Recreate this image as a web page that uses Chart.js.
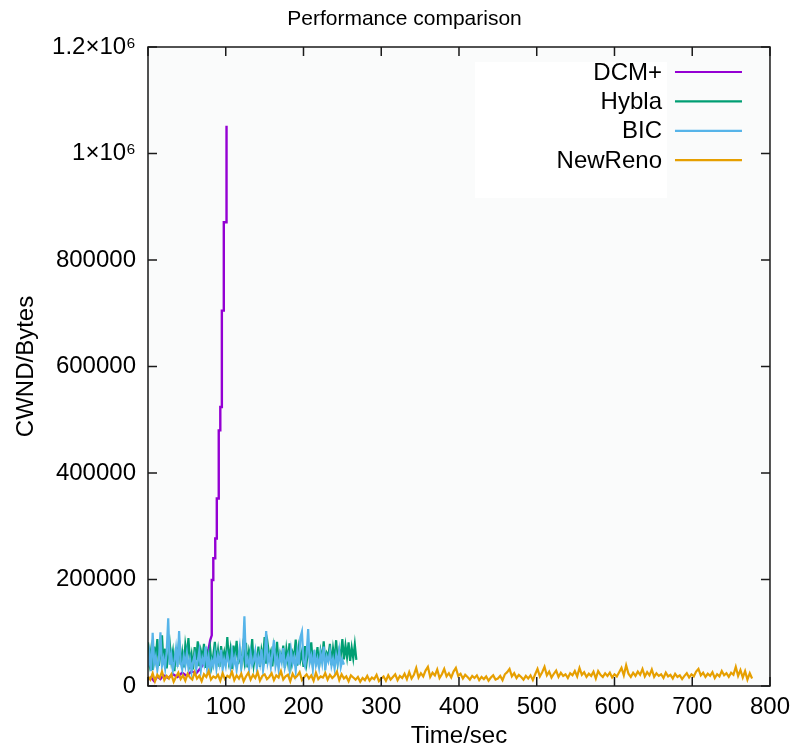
<!DOCTYPE html>
<html>
<head>
<meta charset="utf-8">
<title>Performance comparison</title>
<script src="https://cdn.jsdelivr.net/npm/chart.js@4.4.1/dist/chart.umd.min.js"></script>
<style>
  html, body { margin: 0; padding: 0; background: #fff; }
  canvas { display: block; }
</style>
</head>
<body>
<canvas id="chart" width="799" height="747"></canvas>
<script>
const chartTitle = 'Performance comparison';
const seriesNames = ['DCM+', 'Hybla', 'BIC', 'NewReno'];
const seriesColors = ['#9400d3', '#009e73', '#56b4e9', '#e69f00'];

const xTicks = [0, 100, 200, 300, 400, 500, 600, 700, 800];
const xTickLabels = ['', '100', '200', '300', '400', '500', '600', '700', '800'];
const yTicks = [0, 200000, 400000, 600000, 800000, 1000000, 1200000];
const yTickLabels = ['0', '200000', '400000', '600000', '800000', '1×10⁶', '1.2×10⁶'];

// DCM+ : slow start, then the staircase up to ~1.05e6
const dcmTime = [0, 4, 8, 12, 16, 20, 26, 32, 38, 44, 50, 56, 62, 68, 74, 78,
  80, 82, 82, 84, 84, 86.5, 86.5, 88.5, 88.5, 91, 91, 93, 93, 95, 95, 97.5, 97.5, 101, 101];
const dcmCwnd = [12000, 16000, 9000, 18000, 13000, 20000, 15000, 22000, 17000, 25000, 19000, 28000, 24000, 34000, 48000, 70000,
  86000, 95000, 199000, 199000, 240000, 240000, 277000, 277000, 352000, 352000, 480000, 480000,
  524000, 524000, 705000, 705000, 871000, 871000, 1052000];

// Hybla, sampled every 2 s from 0 s
const hyblaStep = 2;
const hyblaCwnd = [
  82000, 45000, 68000, 30000, 74000, 52000, 88000, 38000, 61000, 95000,
  42000, 70000, 33000, 58000, 80000, 47000, 65000, 28000, 72000, 50000,
  86000, 40000, 63000, 35000, 77000, 55000, 90000, 44000, 60000, 31000,
  73000, 48000, 84000, 37000, 66000, 52000, 79000, 34000, 62000, 45000,
  70000, 39000, 58000, 83000, 46000, 67000, 36000, 75000, 51000, 64000,
  43000, 92000, 49000, 69000, 32000, 76000, 54000, 85000, 41000, 63000,
  38000, 71000, 47000, 81000, 35000, 66000, 53000, 88000, 40000, 60000,
  45000, 74000, 36000, 67000, 50000, 92000, 42000, 78000, 55000, 65000,
  37000, 72000, 48000, 83000, 39000, 61000, 52000, 76000, 34000, 69000,
  46000, 80000, 41000, 63000, 55000, 87000, 38000, 71000, 49000, 64000,
  36000, 75000, 44000, 68000, 53000, 82000, 40000, 59000, 47000, 73000,
  35000, 66000, 51000, 84000, 42000, 62000, 56000, 79000, 39000, 70000,
  48000, 86000, 45000, 67000, 58000, 88000, 50000, 76000, 54000, 82000,
  47000, 72000, 52000, 78000, 49000
];

// BIC, sampled every 2 s from 0 s
const bicStep = 2;
const bicCwnd = [
  35000, 60000, 28000, 100000, 42000, 55000, 30000, 48000, 101000, 38000,
  52000, 33000, 64000, 127000, 40000, 58000, 29000, 46000, 70000, 36000,
  103000, 44000, 31000, 56000, 39000, 62000, 34000, 50000, 27000, 45000,
  58000, 32000, 47000, 66000, 30000, 52000, 41000, 74000, 35000, 55000,
  29000, 48000, 38000, 61000, 33000, 57000, 42000, 68000, 31000, 50000,
  37000, 59000, 45000, 34000, 63000, 40000, 54000, 30000, 49000, 72000,
  36000, 58000, 131000, 43000, 52000, 32000, 61000, 39000, 47000, 65000,
  34000, 55000, 41000, 69000, 30000, 50000, 103000, 44000, 57000, 36000,
  62000, 86000, 38000, 53000, 31000, 60000, 45000, 71000, 35000, 48000,
  58000, 33000, 66000, 42000, 54000, 29000, 63000, 40000, 91000, 102000,
  47000, 37000, 60000, 107000, 44000, 56000, 32000, 68000, 39000, 52000,
  35000, 61000, 43000, 74000, 30000, 55000, 46000, 64000, 38000, 51000,
  33000, 58000, 42000, 66000, 36000, 49000, 40000
];

// NewReno, sampled every 3 s from 0 s
const renoStep = 3;
const renoCwnd = [
  18000, 12000, 24000, 9000, 21000, 15000, 27000, 11000, 19000, 14000,
  22000, 8000, 17000, 25000, 13000, 20000, 10000, 23000, 16000, 12000,
  26000, 14000, 19000, 9000, 22000, 17000, 28000, 12000, 18000, 15000,
  21000, 10000, 24000, 13000, 19000, 16000, 27000, 11000, 20000, 14000,
  23000, 9000, 18000, 25000, 12000, 21000, 15000, 26000, 10000, 19000,
  22000, 13000, 17000, 24000, 11000, 20000, 16000, 28000, 12000, 18000,
  21000, 9000, 23000, 15000, 19000, 26000, 11000, 17000, 22000, 14000,
  20000, 10000, 25000, 13000, 18000, 16000, 24000, 12000, 21000, 15000,
  19000, 27000, 11000, 22000, 14000, 18000, 9000, 20000, 16000, 12000,
  17000, 8000, 15000, 11000, 19000, 10000, 16000, 13000, 21000, 9000,
  14000, 18000, 10000, 20000, 12000, 17000, 22000, 11000, 19000, 15000,
  23000, 13000, 26000, 14000, 21000, 34000, 16000, 24000, 18000, 29000,
  36000, 17000, 25000, 20000, 31000, 15000, 22000, 32000, 18000, 24000,
  16000, 27000, 34000, 19000, 23000, 14000, 21000, 17000, 12000, 19000,
  15000, 20000, 11000, 17000, 13000, 18000, 10000, 16000, 20000, 12000,
  14000, 19000, 11000, 22000, 26000, 32000, 18000, 24000, 15000, 21000,
  17000, 12000, 19000, 14000, 20000, 11000, 22000, 32000, 18000, 26000,
  36000, 20000, 27000, 16000, 23000, 29000, 17000, 25000, 19000, 22000,
  15000, 24000, 20000, 28000, 18000, 34000, 21000, 26000, 17000, 23000,
  19000, 27000, 14000, 28000, 21000, 17000, 24000, 19000, 25000, 16000,
  22000, 18000, 26000, 34000, 20000, 39000, 23000, 17000, 25000, 19000,
  27000, 21000, 32000, 18000, 26000, 20000, 31000, 17000, 24000, 19000,
  22000, 15000, 25000, 18000, 21000, 14000, 23000, 17000, 20000, 13000,
  19000, 24000, 16000, 22000, 18000, 27000, 32000, 20000, 25000, 17000,
  23000, 19000, 26000, 15000, 22000, 18000, 28000, 20000, 24000, 17000,
  25000, 21000, 36000, 19000, 30000, 16000, 28000, 12000, 24000, 14000
];

const FONT = '"Liberation Sans", Arial, Helvetica, sans-serif';

function sampled(values, step) {
  return values.map((v, i) => ({ x: i * step, y: v }));
}

const dcmPoints = dcmTime.map((t, i) => ({ x: t, y: dcmCwnd[i] }));

const frame = {
  id: 'frame',
  beforeDatasetsDraw(chart) {
    const { ctx, chartArea: a } = chart;
    ctx.save();
    ctx.fillStyle = '#fafbfb';
    ctx.fillRect(a.left, a.top, a.width, a.height);

    // key box, top right inside the plot
    ctx.fillStyle = '#ffffff';
    ctx.fillRect(a.right - 295, a.top + 15, 192, 136);
    ctx.font = '24px ' + FONT;
    ctx.textAlign = 'right';
    ctx.textBaseline = 'middle';
    seriesNames.forEach((name, i) => {
      const yy = a.top + 25 + i * 29.4;
      ctx.fillStyle = '#000';
      ctx.fillText(name, a.right - 108, yy + 1);
      ctx.strokeStyle = seriesColors[i];
      ctx.lineWidth = 2.2;
      ctx.beginPath();
      ctx.moveTo(a.right - 95, yy);
      ctx.lineTo(a.right - 28, yy);
      ctx.stroke();
    });
    ctx.restore();
  },
  afterDatasetsDraw(chart) {
    const { ctx, chartArea: a, scales: { x, y } } = chart;
    ctx.save();
    ctx.strokeStyle = '#1a1a1a';
    ctx.lineWidth = 1.5;
    ctx.beginPath();
    x.ticks.forEach(t => {
      const px = x.getPixelForValue(t.value);
      ctx.moveTo(px, a.bottom); ctx.lineTo(px, a.bottom - 9);
      ctx.moveTo(px, a.top); ctx.lineTo(px, a.top + 9);
    });
    y.ticks.forEach(t => {
      const py = y.getPixelForValue(t.value);
      ctx.moveTo(a.left, py); ctx.lineTo(a.left + 9, py);
      ctx.moveTo(a.right, py); ctx.lineTo(a.right - 9, py);
    });
    ctx.stroke();
    ctx.strokeRect(a.left, a.top, a.width, a.height);

    // title, centred on the whole canvas
    ctx.fillStyle = '#000';
    ctx.font = '21px ' + FONT;
    ctx.textAlign = 'center';
    ctx.textBaseline = 'middle';
    ctx.fillText(chartTitle, chart.width / 2 + 5, 19);
    ctx.restore();
  }
};

function line(label, data, color, order, width) {
  return {
    label, data, order,
    borderColor: color,
    borderWidth: width,
    pointRadius: 0,
    tension: 0,
    fill: false
  };
}

new Chart(document.getElementById('chart'), {
  type: 'line',
  data: {
    datasets: [
      line(seriesNames[0], dcmPoints, seriesColors[0], 3, 2.4),
      line(seriesNames[1], sampled(hyblaCwnd, hyblaStep), seriesColors[1], 2, 2.2),
      line(seriesNames[2], sampled(bicCwnd, bicStep), seriesColors[2], 1, 2.2),
      line(seriesNames[3], sampled(renoCwnd, renoStep), seriesColors[3], 0, 2.2)
    ]
  },
  options: {
    responsive: false,
    animation: false,
    layout: { padding: { top: 47, right: 29 } },
    plugins: {
      legend: { display: false },
      tooltip: { enabled: false },
      title: { display: false }
    },
    scales: {
      x: {
        type: 'linear',
        min: 0,
        max: 800,
        afterBuildTicks: s => { s.ticks = xTicks.map(v => ({ value: v })); },
        afterFit: s => { s.height = 61; },
        grid: { display: false, drawTicks: false },
        border: { display: false },
        ticks: {
          padding: 9,
          maxRotation: 0,
          autoSkip: false,
          color: '#000',
          font: { family: FONT, size: 24, lineHeight: 1 },
          callback: (v, i) => xTickLabels[i]
        },
        title: {
          display: true,
          text: 'Time/sec',
          color: '#000',
          font: { family: FONT, size: 24, lineHeight: 1 },
          padding: { top: 0, bottom: -1 }
        }
      },
      y: {
        min: 0,
        max: 1200000,
        afterBuildTicks: s => { s.ticks = yTicks.map(v => ({ value: v })); },
        afterFit: s => { s.width = 148; },
        grid: { display: false, drawTicks: false },
        border: { display: false },
        ticks: {
          padding: 12,
          autoSkip: false,
          color: '#000',
          font: { family: FONT, size: 24, lineHeight: 1 },
          callback: (v, i) => yTickLabels[i]
        },
        title: {
          display: true,
          text: 'CWND/Bytes',
          color: '#000',
          font: { family: FONT, size: 24, lineHeight: 1 },
          padding: { top: 14, bottom: 0 }
        }
      }
    }
  },
  plugins: [frame]
});
</script>
</body>
</html>
